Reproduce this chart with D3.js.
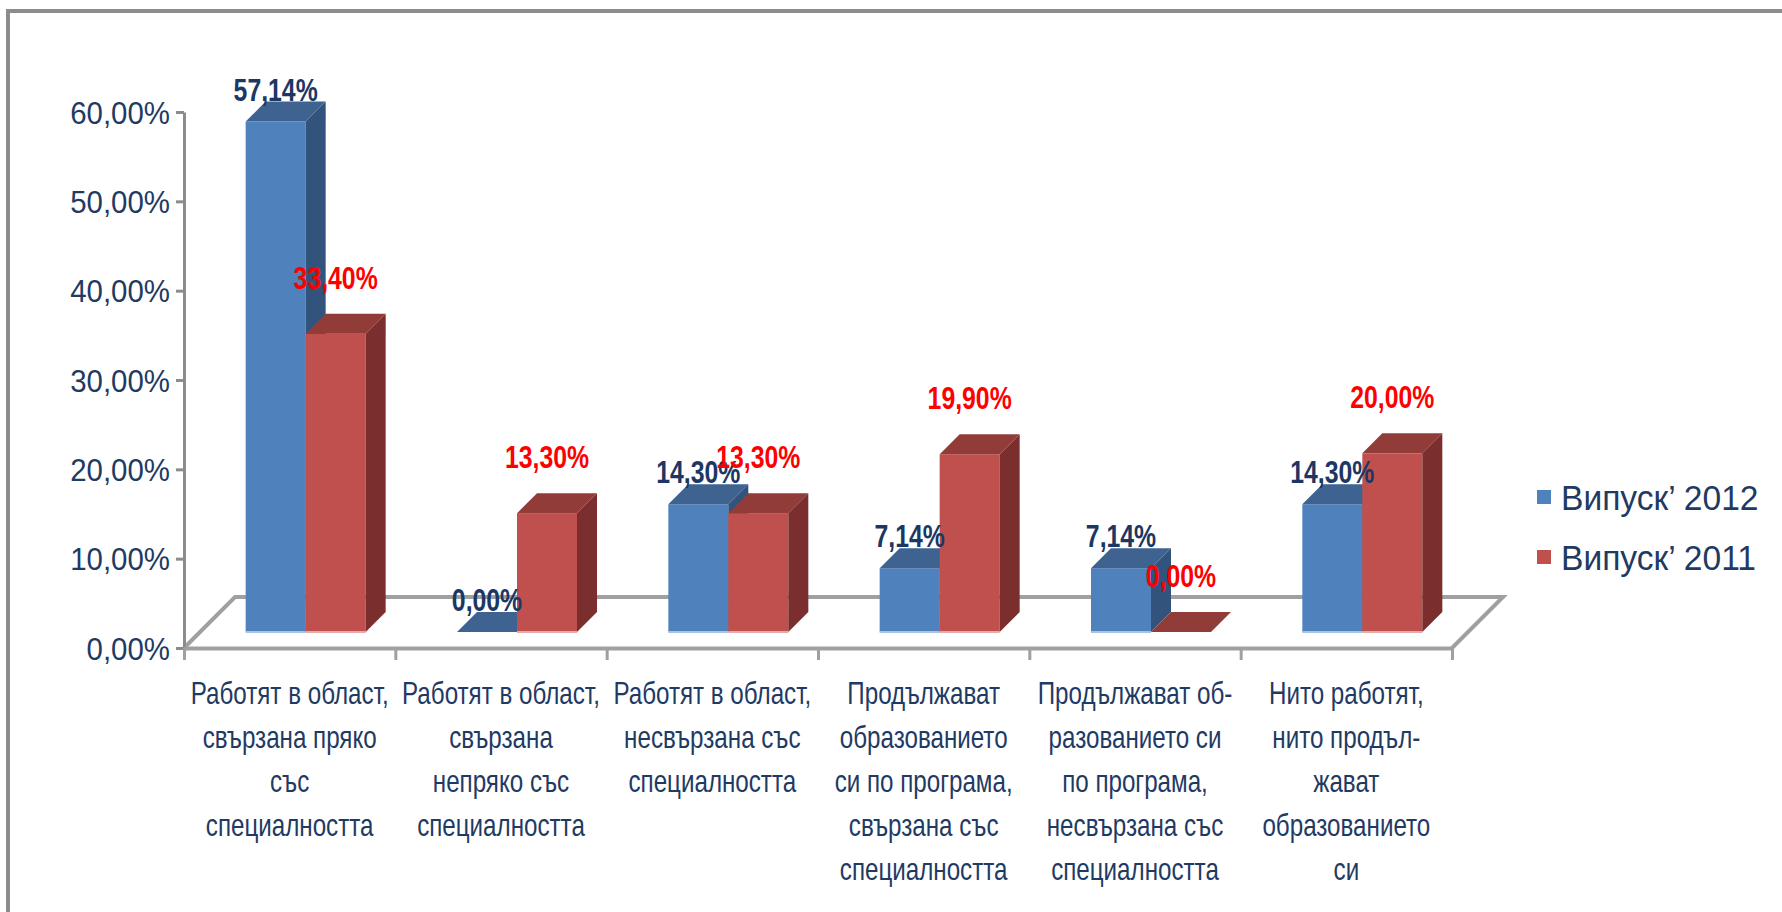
<!DOCTYPE html>
<html>
<head>
<meta charset="utf-8">
<script src="https://cdn.jsdelivr.net/npm/d3@7"></script>
<style>
  body { margin: 0; background: #fff; }
  text { font-family: "Liberation Sans", Arial, sans-serif; }
</style>
</head>
<body>
<div id="chart"></div>
<script>
// data
var categories = [
  ["Работят в област,", "свързана пряко", "със", "специалността"],
  ["Работят в област,", "свързана", "непряко със", "специалността"],
  ["Работят в област,", "несвързана със", "специалността"],
  ["Продължават", "образованието", "си по програма,", "свързана със", "специалността"],
  ["Продължават об-", "разованието си", "по програма,", "несвързана със", "специалността"],
  ["Нито работят,", "нито продъл-", "жават", "образованието", "си"]
];
var seriesNames = ["Випуск’ 2012", "Випуск’ 2011"];
var values2012 = [0.5714, 0.0, 0.143, 0.0714, 0.0714, 0.143];
var values2011 = [0.334, 0.133, 0.133, 0.199, 0.0, 0.20];
var yTicks = [0, 0.1, 0.2, 0.3, 0.4, 0.5, 0.6];

var width = 1782, height = 912;
var axisX = 184, axisRight = 1452;
var y0 = 648, yTop = 112;
var floorDepth = 51, barOffset = 16, barDepth = 20, barW = 60;

var colors = [
  {front: "#4f81bd", top: "#3e6391", side: "#32537c", bottom: "#a9c1e2", label: "#1c3763"},
  {front: "#c0504d", top: "#923c3a", side: "#7a2f2e", bottom: "#e2aaa8", label: "#ff0000"}
];
var textColor = "#1f3a63";

var locale = d3.formatLocale({decimal: ",", thousands: " ", grouping: [3], currency: ["", ""]});
var pct = locale.format(".2%");

var svg = d3.select("#chart").append("svg")
    .attr("width", width)
    .attr("height", height);

svg.append("rect")
  .attr("x", 8).attr("y", 11)
  .attr("width", width + 20).attr("height", height + 20)
  .attr("fill", "#fff")
  .attr("stroke", "#8c8c8c")
  .attr("stroke-width", 4);

var y = d3.scaleLinear().domain([0, 0.6]).range([y0, yTop]);
var x = d3.scaleBand().domain(d3.range(categories.length)).range([axisX, axisRight]);
var xEdge = d3.scaleLinear().domain([0, categories.length]).range([axisX, axisRight]);
var x1 = d3.scaleBand().domain([0, 1]).range([0, barW * 2]);

// floor
var floor = svg.append("g")
  .attr("fill", "none")
  .attr("stroke", "#a0a0a0")
  .attr("stroke-width", 4);
floor.append("path")
  .attr("d", "M" + axisX + "," + y0 +
    "L" + (axisX + floorDepth) + "," + (y0 - floorDepth) +
    "H" + (axisRight + floorDepth) +
    "L" + axisRight + "," + y0);

// y axis
var yAxis = d3.axisLeft(y)
  .tickValues(yTicks)
  .tickFormat(pct)
  .tickSize(8)
  .tickSizeOuter(0);

var gy = svg.append("g")
  .attr("transform", "translate(" + axisX + ",0)")
  .call(yAxis);
gy.select(".domain").attr("stroke", "#8c8c8c").attr("stroke-width", 3);
gy.selectAll(".tick line").attr("stroke", "#8c8c8c").attr("stroke-width", 3);
gy.selectAll(".tick text")
  .attr("fill", textColor)
  .attr("font-size", 31)
  .attr("font-family", "Liberation Sans, Arial, sans-serif")
  .attr("transform", "scale(0.95,1)")
  .attr("x", -14 / 0.95)
  .attr("dy", "0.36em");

// x axis (category boundaries)
var xAxis = d3.axisBottom(xEdge)
  .tickValues(d3.range(categories.length + 1))
  .tickFormat("")
  .tickSize(12)
  .tickSizeOuter(0);

var gx = svg.append("g")
  .attr("transform", "translate(0," + y0 + ")")
  .call(xAxis);
gx.select(".domain").attr("stroke", "#a0a0a0").attr("stroke-width", 4);
gx.selectAll(".tick line").attr("stroke", "#a0a0a0").attr("stroke-width", 3);

// category labels
var catLabel = svg.append("g").selectAll("text")
  .data(categories)
  .enter().append("text")
    .attr("transform", function(d, i) {
      return "translate(" + (x(i) + x.bandwidth() / 2) + ",704) scale(0.78,1)";
    })
    .attr("text-anchor", "middle")
    .attr("font-size", 31)
    .attr("fill", textColor);

catLabel.selectAll("tspan")
  .data(function(d) { return d; })
  .enter().append("tspan")
    .attr("x", 0)
    .attr("y", function(d, j) { return j * 44; })
    .text(function(d) { return d; });

// bars
var barData = [];
categories.forEach(function(c, i) {
  [values2012[i], values2011[i]].forEach(function(v, s) {
    barData.push({cat: i, series: s, value: v});
  });
});

function barX(d) {
  return x(d.cat) + (x.bandwidth() - barW * 2) / 2 + barOffset + x1(d.series);
}
function barTop(d) {
  return y(d.value) - barOffset;
}
var baseY = y(0) - barOffset;

var bars = svg.append("g").selectAll("g")
  .data(barData)
  .enter().append("g");

bars.filter(function(d) { return d.value > 0; })
  .append("rect")
    .attr("x", barX)
    .attr("y", barTop)
    .attr("width", barW)
    .attr("height", function(d) { return baseY - barTop(d); })
    .attr("fill", function(d) { return colors[d.series].front; });

bars.filter(function(d) { return d.value > 0; })
  .append("path")
    .attr("d", function(d) {
      var xr = barX(d) + barW, t = barTop(d);
      return "M" + xr + "," + t + "L" + (xr + barDepth) + "," + (t - barDepth) +
        "V" + (baseY - barDepth) + "L" + xr + "," + baseY + "Z";
    })
    .attr("fill", function(d) { return colors[d.series].side; });

bars.append("path")
  .attr("d", function(d) {
    var xl = barX(d), t = barTop(d);
    return "M" + xl + "," + t + "H" + (xl + barW) +
      "L" + (xl + barW + barDepth) + "," + (t - barDepth) +
      "H" + (xl + barDepth) + "Z";
  })
  .attr("fill", function(d) { return colors[d.series].top; });

bars.filter(function(d) { return d.value > 0; })
  .append("rect")
    .attr("x", barX)
    .attr("y", baseY - 1)
    .attr("width", barW)
    .attr("height", 2)
    .attr("fill", function(d) { return colors[d.series].bottom; });

// value labels
svg.append("g").selectAll("text")
  .data(barData)
  .enter().append("text")
    .attr("transform", function(d) {
      var ty = barTop(d) - barDepth - (d.series === 0 ? 1 : 25);
      return "translate(" + (barX(d) + barW / 2) + "," + ty + ") scale(0.8,1)";
    })
    .attr("text-anchor", "middle")
    .attr("font-size", 31)
    .attr("font-weight", "bold")
    .attr("fill", function(d) { return colors[d.series].label; })
    .text(function(d) { return pct(d.value); });

// legend
var legend = svg.append("g").selectAll("g")
  .data(seriesNames)
  .enter().append("g")
    .attr("transform", function(d, i) { return "translate(1537," + (497 + i * 60) + ")"; });

legend.append("rect")
  .attr("x", 0).attr("y", -7)
  .attr("width", 14).attr("height", 14)
  .attr("fill", function(d, i) { return colors[i].front; });

legend.append("text")
  .attr("transform", "translate(24,0) scale(0.96,1)")
  .attr("dy", "0.36em")
  .attr("font-size", 35)
  .attr("fill", textColor)
  .text(function(d) { return d; });
</script>
</body>
</html>
